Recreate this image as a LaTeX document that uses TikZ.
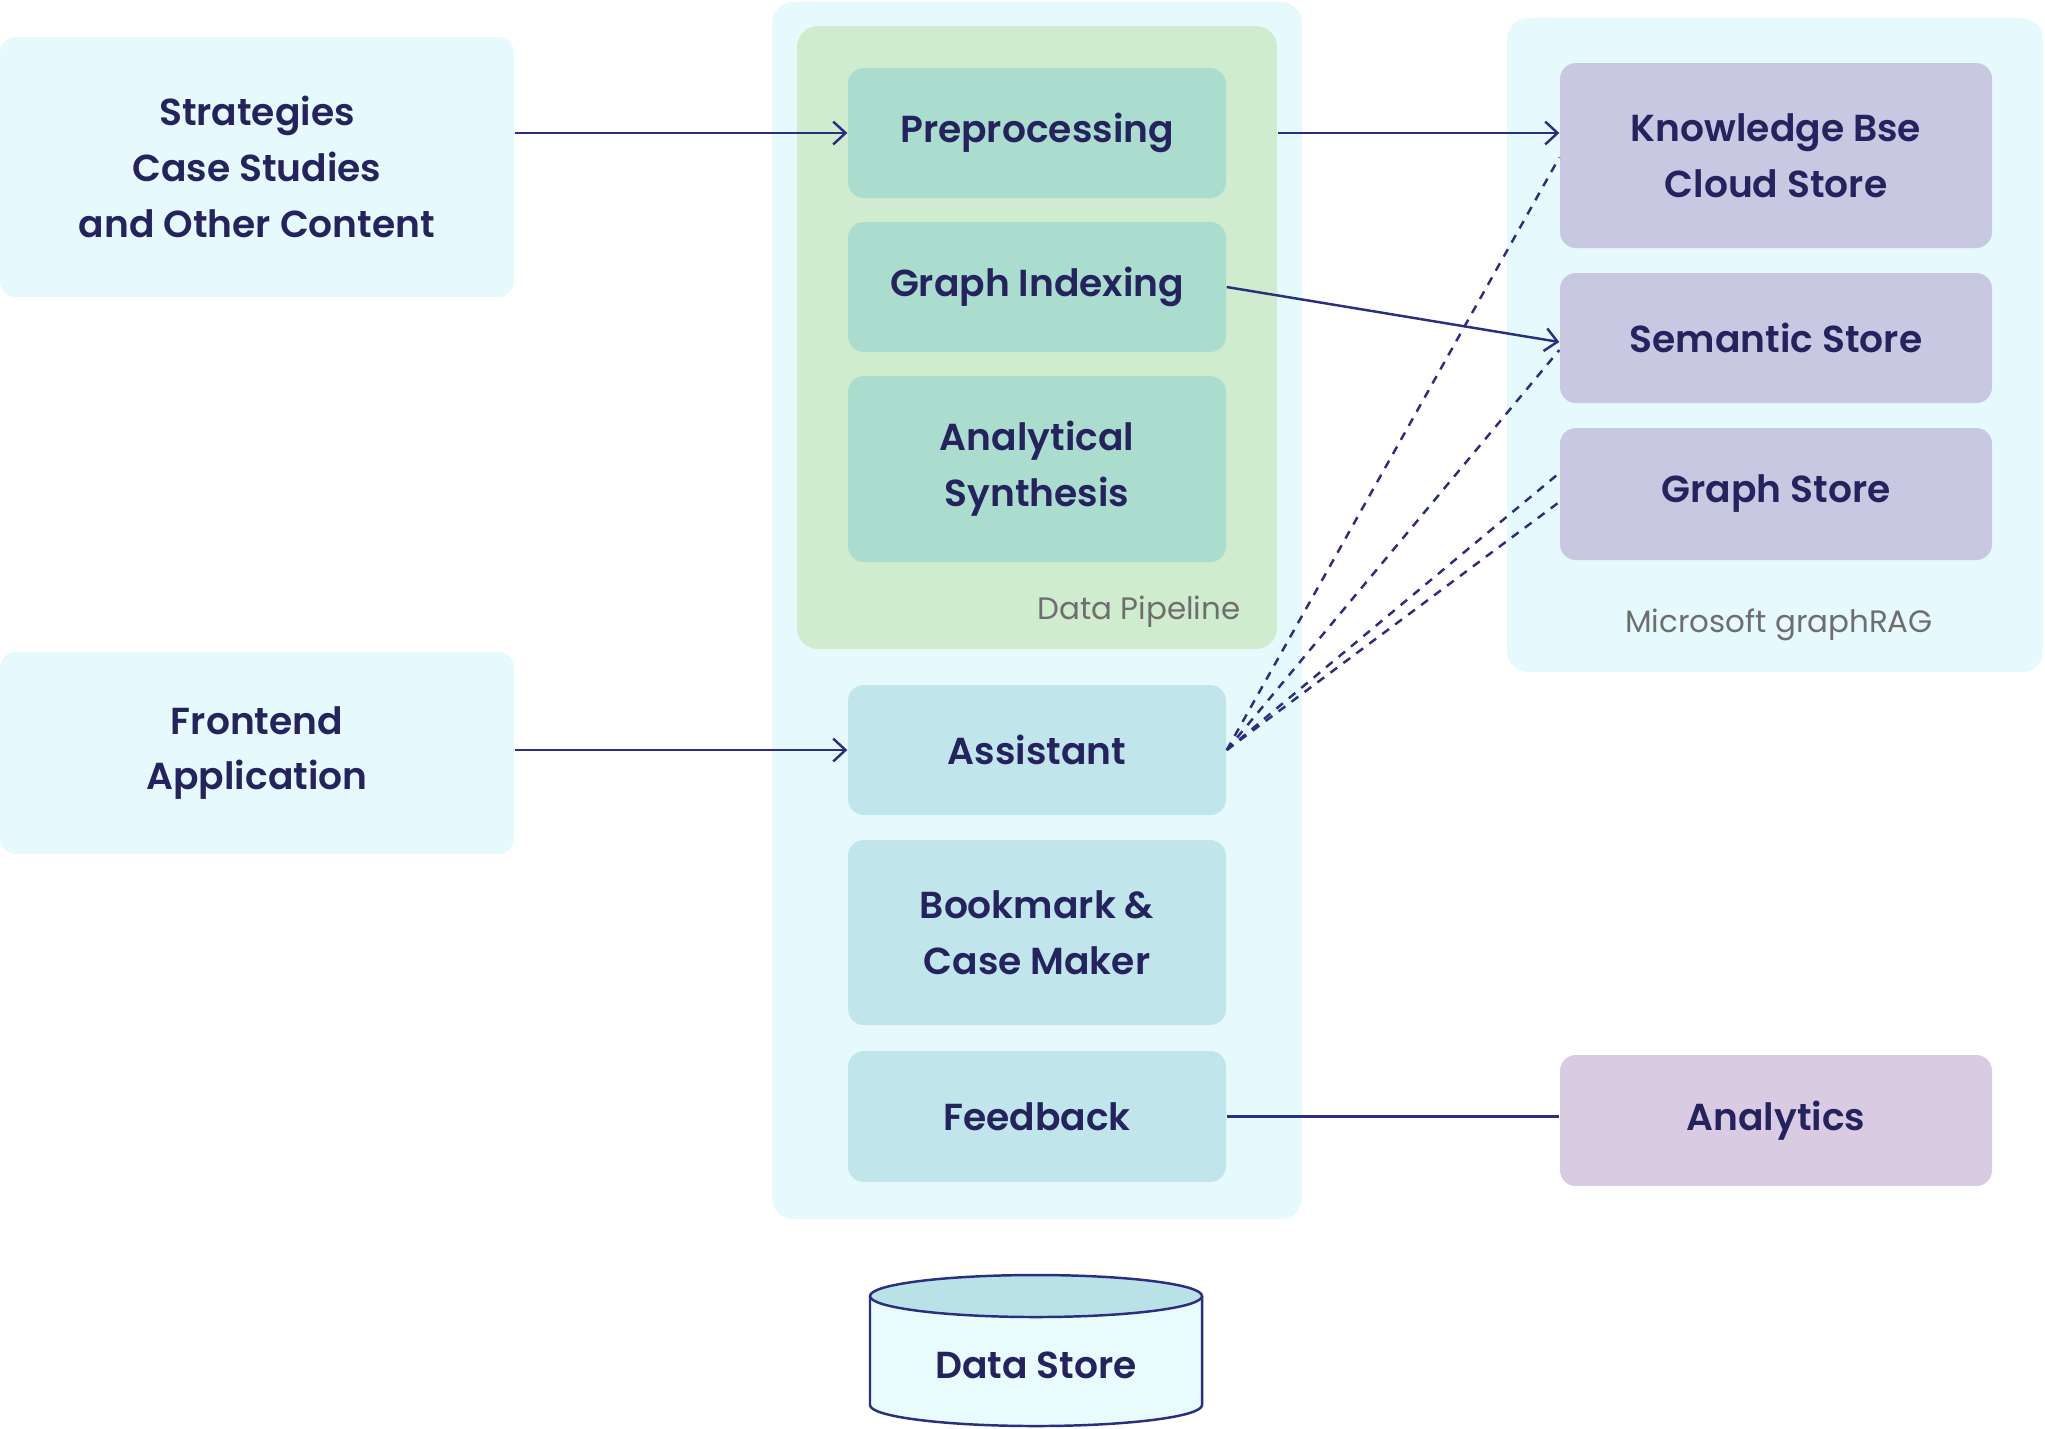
\documentclass[tikz,border=0pt]{standalone}
\usepackage{fontspec}
\setmainfont{Poppins}[BoldFont={Poppins SemiBold}]
\usetikzlibrary{arrows.meta,positioning,calc}
\definecolor{InkNavy}{HTML}{25235E}
\definecolor{LineNavy}{HTML}{2B2D7E}
\definecolor{PaleCyan}{HTML}{E6FAFD}
\definecolor{PipeGreen}{HTML}{D0ECCE}
\definecolor{StepTeal}{HTML}{ABDDCF}
\definecolor{AppBlue}{HTML}{C0E6EC}
\definecolor{StoreLav}{HTML}{C8C8E2}
\definecolor{StatLilac}{HTML}{D8CBE2}
\definecolor{NoteGray}{HTML}{6E6E6E}
\definecolor{DrumTop}{HTML}{B9E2E6}
\definecolor{DrumBody}{HTML}{E8FBFD}
\newcommand{\boxfont}{\fontsize{10.7}{15.9}\selectfont\bfseries}
\newcommand{\notefont}{\fontsize{8.8}{10}\selectfont}
\tikzset{
 box/.style={rounded corners=4.5pt,align=center,text=InkNavy,font=\boxfont,inner sep=0pt},
 srcbox/.style={box,fill=PaleCyan,minimum width=5.14cm},
 stepbox/.style={box,fill=StepTeal,minimum width=3.78cm},
 appbox/.style={box,fill=AppBlue,minimum width=3.78cm},
 storebox/.style={box,fill=StoreLav,minimum width=4.32cm},
 panel/.style={rounded corners=6pt,inner sep=0pt},
 note/.style={text=NoteGray,font=\notefont,inner sep=0pt},
 flow/.style={->,color=LineNavy,line width=0.7pt},
 query/.style={color=LineNavy,line width=0.7pt,dash pattern=on 2.4pt off 2.2pt}
}

\begin{document}
\begin{tikzpicture}[>={Straight Barb[length=3.5pt,width=6.5pt]}]
\useasboundingbox (0,0) rectangle (20.45,-14.28);
% containers
\node[panel,fill=PaleCyan,minimum width=5.30cm,minimum height=12.17cm] (mid) at (10.37,-6.105) {};
\node[panel,fill=PipeGreen,minimum width=4.80cm,minimum height=6.23cm] (pipeline) at (10.37,-3.375) {};
\node[panel,fill=PaleCyan,minimum width=5.36cm,minimum height=6.54cm] (graphrag) at (17.75,-3.45) {};
\node[note] (pipelabel) at (11.39,-6.12) {Data Pipeline};
\node[note] (raglabel) at (17.79,-6.25) {Microsoft graphRAG};

% sources
\node[srcbox,minimum height=2.6cm] (strat) at (2.57,-1.67) {Strategies\\Case Studies\\and Other Content};
\node[srcbox,minimum height=2.02cm] (front) at (2.57,-7.53) {Frontend\\Application};

% pipeline steps
\node[stepbox,minimum height=1.30cm] (prep) at (10.37,-1.33) {Preprocessing};
\node[stepbox,minimum height=1.30cm] (index) at (10.37,-2.87) {Graph Indexing};
\node[stepbox,minimum height=1.86cm] (synth) at (10.37,-4.69) {Analytical\\Synthesis};

% application
\node[appbox,minimum height=1.30cm] (asst) at (10.37,-7.50) {Assistant};
\node[appbox,minimum height=1.85cm] (bookmark) at (10.37,-9.325) {Bookmark \&\\Case Maker};
\node[appbox,minimum height=1.31cm] (feedback) at (10.37,-11.165) {Feedback};

% stores
\node[storebox,minimum height=1.85cm] (kb) at (17.76,-1.555) {Knowledge Bse\\Cloud Store};
\node[storebox,minimum height=1.30cm] (sem) at (17.76,-3.38) {Semantic Store};
\node[storebox,minimum height=1.32cm] (gstore) at (17.76,-4.94) {Graph Store};
\node[box,fill=StatLilac,minimum width=4.32cm,minimum height=1.31cm] (analytics) at (17.76,-11.205) {Analytics};

% data store drum
\fill[DrumBody] (8.70,-12.96) -- (8.70,-14.05) arc[start angle=180,end angle=360,x radius=1.66cm,y radius=0.21cm] -- (12.02,-12.96) -- cycle;
\draw[LineNavy,line width=0.7pt] (8.70,-12.96) -- (8.70,-14.05) arc[start angle=180,end angle=360,x radius=1.66cm,y radius=0.21cm] -- (12.02,-12.96);
\draw[LineNavy,line width=0.7pt,fill=DrumTop] (10.36,-12.96) ellipse[x radius=1.66cm,y radius=0.21cm];
\node[box] (store) at (10.36,-13.65) {Data Store};

% connectors
\draw[flow] (strat.east |- prep.west) -- (prep.west);
\draw[flow] (pipeline.east |- prep.east) -- (kb.west |- prep.east);
\draw[flow] (index.east) -- ($(sem.west)+(0,-0.04)$);
\draw[flow] (front.east |- asst.west) -- (asst.west);
\draw[color=LineNavy,line width=0.7pt] (feedback.east) -- (analytics.west |- feedback.east);
\draw[query] (asst.east) -- ($(kb.west)+(0,-0.02)$);
\draw[query] (asst.east) -- ($(sem.west)+(0,-0.12)$);
\draw[query] (asst.east) -- ($(gstore.west)+(0,0.21)$);
\draw[query] (asst.east) -- ($(gstore.west)+(0,-0.08)$);
\end{tikzpicture}
\end{document}
